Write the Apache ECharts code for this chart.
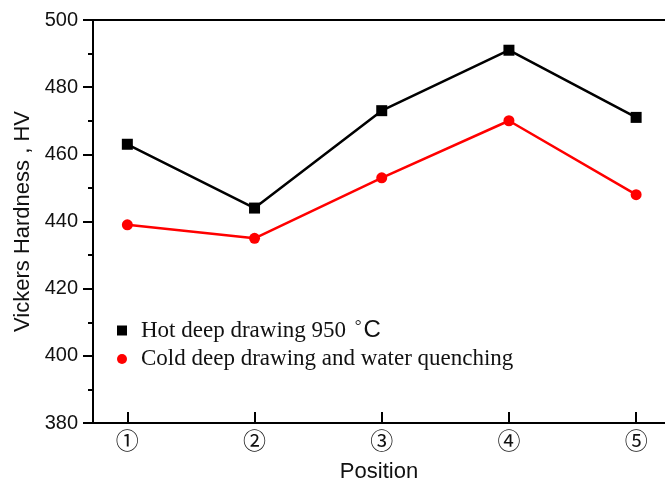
<!DOCTYPE html>
<html>
<head>
<meta charset="utf-8">
<script src="https://cdn.jsdelivr.net/npm/echarts@6/dist/echarts.min.js"></script>
<style>html,body{margin:0;padding:0;background:#fff;overflow:hidden}#c{width:665px;height:482px}</style>
</head>
<body>
<div id="c"></div>
<script>
const positions = [1, 2, 3, 4, 5];
const tickLabels = ['①', '②', '③', '④', '⑤'];
const hotValues = [463, 444, 473, 491, 471];
const coldValues = [439, 435, 453, 470, 448];
const seriesNames = ['Hot deep drawing 950 °C', 'Cold deep drawing and water quenching'];

const chart = echarts.init(document.getElementById('c'));
chart.setOption({
  animation: false,
  backgroundColor: '#fff',
  grid: { left: 93, top: 20, right: 0, bottom: 59, outerBoundsMode: 'none', containLabel: false, show: false },
  graphic: [{
    type: 'rect', right: 0, top: 22, z: 100, silent: true,
    shape: { width: 6, height: 399 }, style: { fill: '#fff' }
  }],
  legend: {
    orient: 'vertical', left: 112, top: 313, itemGap: 5, itemWidth: 10, itemHeight: 10,
    formatter: n => n === seriesNames[0] ? '{a|Hot deep drawing 950 }{d|°}{c|C}' : '{a|' + n + '}',
    textStyle: { fontFamily: 'Liberation Serif', fontSize: 23, color: '#111', padding: [0, 0, 0, 9],
      rich: {
        a: { fontFamily: 'Liberation Serif', fontSize: 23, color: '#111' },
        d: { fontFamily: 'Liberation Serif', fontSize: 17, color: '#111', padding: [0, 2, 8, 3] },
        c: { fontFamily: 'Liberation Sans', fontSize: 24, color: '#111' }
      } },
    data: [
      { name: seriesNames[0], icon: 'rect' },
      { name: seriesNames[1], icon: 'circle' }
    ]
  },
  xAxis: [{
    type: 'value', min: 0.73, max: 5.227,
    name: 'Position', nameLocation: 'middle', nameGap: 38,
    nameTextStyle: { fontFamily: 'Liberation Sans', fontSize: 22, color: '#111' },
    axisLine: { lineStyle: { color: '#000', width: 2 } },
    axisTick: { inside: true, length: 11, lineStyle: { width: 2, color: '#000' }, customValues: positions },
    axisLabel: { customValues: positions, margin: 6, fontFamily: 'Noto Sans CJK JP', fontSize: 23, color: '#111',
      formatter: v => tickLabels[positions.indexOf(v)] || '' },
    splitLine: { show: false }
  }, {
    type: 'value', position: 'top', min: 0.73, max: 5.227,
    axisLine: { show: true, lineStyle: { color: '#000', width: 2 } },
    axisTick: { show: false }, axisLabel: { show: false }, splitLine: { show: false }
  }],
  yAxis: {
    type: 'value', min: 380, max: 500, interval: 20,
    name: 'Vickers Hardness , HV', nameLocation: 'middle', nameGap: 56,
    nameTextStyle: { fontFamily: 'Liberation Sans', fontSize: 22, color: '#111' },
    axisLine: { show: true, lineStyle: { color: '#000', width: 2 } },
    axisTick: { show: true, length: 10, lineStyle: { width: 2, color: '#000' } },
    minorTick: { show: true, splitNumber: 2, length: 5, lineStyle: { width: 2, color: '#000' } },
    axisLabel: { margin: 15, fontFamily: 'Liberation Sans', fontSize: 20, color: '#111' },
    splitLine: { show: false }
  },
  series: [
    { name: seriesNames[0], type: 'line', data: positions.map((p, i) => [p, hotValues[i]]),
      symbol: 'rect', symbolSize: 11, color: '#000', lineStyle: { width: 2.5, color: '#000' }, itemStyle: { color: '#000' } },
    { name: seriesNames[1], type: 'line', data: positions.map((p, i) => [p, coldValues[i]]),
      symbol: 'circle', symbolSize: 11, color: '#ff0000', lineStyle: { width: 2.5, color: '#ff0000' }, itemStyle: { color: '#ff0000' } }
  ]
});
</script>
</body>
</html>
